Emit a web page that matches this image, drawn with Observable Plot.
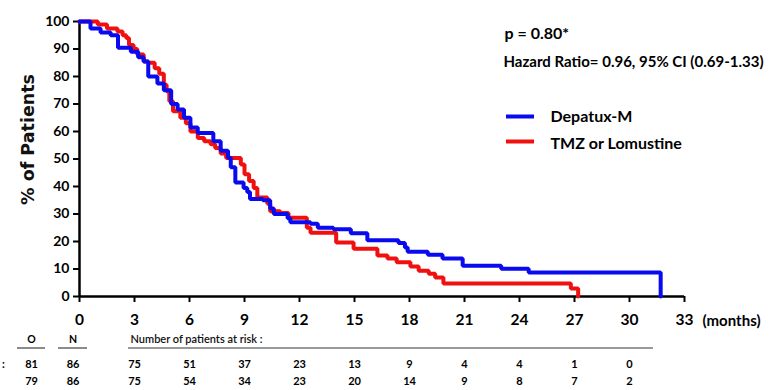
<!DOCTYPE html>
<html>
<head>
<meta charset="utf-8">
<script src="https://cdn.jsdelivr.net/npm/d3@7"></script>
<script src="https://cdn.jsdelivr.net/npm/@observablehq/plot@0.6"></script>
<style>
  html, body { margin: 0; padding: 0; background: #fff; }
  #chart svg { display: block; }
</style>
</head>
<body>
<div id="chart"></div>
<script>
// ---- Data ----
const seriesNames = ["Depatux-M", "TMZ or Lomustine"];

const depatuxMonths = [0, 0.6, 1.15, 1.7, 2.1, 2.8, 3.2, 3.5, 3.75, 4.25, 4.6, 5.0, 5.35, 5.7, 6.05, 6.45, 7.3, 7.7, 8.1, 8.25, 8.5, 8.95, 9.15, 9.3, 10.0, 10.4, 10.6, 11.35, 11.5, 12.6, 13.0, 13.85, 14.8, 15.7, 17.4, 17.75, 17.9, 19.0, 19.8, 20.9, 23.0, 24.5, 31.7];
const depatuxSurv   = [100, 97.5, 96, 95, 90.5, 89, 87, 85.5, 80, 77.5, 75, 70, 68, 65, 61.5, 59.5, 56.5, 53, 50.5, 47, 41.5, 39.5, 38, 35.5, 35, 32, 30, 28.5, 27, 26.5, 25, 24.5, 23, 20.5, 19.5, 17.8, 16.3, 15.2, 13.8, 11.2, 10.1, 8.7, 0];

const tmzMonths = [0, 1.0, 1.5, 2.07, 2.35, 2.55, 2.7, 2.95, 3.15, 3.5, 3.75, 4.1, 4.35, 4.6, 4.75, 4.9, 5.1, 5.5, 5.8, 6.05, 6.45, 6.8, 7.15, 7.4, 7.7, 8.0, 8.8, 9.0, 9.25, 9.5, 9.7, 10.25, 10.4, 10.95, 11.4, 12.4, 12.6, 14.0, 14.95, 16.25, 16.8, 17.3, 18.05, 18.5, 19.05, 19.4, 19.85, 26.8, 27.2];
const tmzSurv   = [100, 98.9, 97.5, 96.4, 95, 94, 91.5, 90, 88, 85.5, 85, 83, 81, 77, 74.6, 71, 67.4, 65, 63, 60, 57.6, 56.5, 55.4, 54, 52, 50.4, 48, 44.5, 42, 39.5, 36, 33.7, 31, 30.4, 28.6, 25, 23.2, 19.6, 17.4, 14.9, 13.8, 12.5, 10.9, 9.4, 8.3, 6.9, 4.7, 2.9, 0];

const xTicks = [0, 3, 6, 9, 12, 15, 18, 21, 24, 27, 30, 33];
const yTicks = [0, 10, 20, 30, 40, 50, 60, 70, 80, 90, 100];

const riskMonths = [3, 6, 9, 12, 15, 18, 21, 24, 27, 30];
const riskRow1 = [75, 51, 37, 23, 13, 9, 4, 4, 1, 0];
const riskRow2 = [75, 54, 34, 23, 20, 14, 9, 8, 7, 2];
const observed = [81, 79];
const numbers  = [86, 86];

const pText = "p = 0.80*";
const hrText = "Hazard Ratio= 0.96, 95% CI (0.69-1.33)";
const yLabel = "% of Patients";
const xUnit = "(months)";
const riskTitle = "Number of patients at risk :";

// ---- Tables built from the arrays ----
const depatux = depatuxMonths.map((m, i) => ({month: m, surv: depatuxSurv[i]}));
const tmz = tmzMonths.map((m, i) => ({month: m, surv: tmzSurv[i]}));
const risk1 = riskMonths.map((m, i) => ({month: m, n: riskRow1[i]}));
const risk2 = riskMonths.map((m, i) => ({month: m, n: riskRow2[i]}));

const BLUE = "#0a0aef";
const RED = "#f01010";
const FONT = "Lato, 'Noto Sans', sans-serif";

// helpers converting layout pixels to data units (plot: x 0..33 -> 79..684, y 0..100 -> 296..21)
const mx = px => (px - 79) / (605 / 33);
const sy = py => (296 - py) / 2.75;

const txt = (extra) => Object.assign({lineAnchor: "bottom", fontWeight: "bold", fontFamily: FONT, fill: "#000"}, extra);

const chart = Plot.plot({
  width: 779,
  height: 390,
  marginTop: 21,
  marginBottom: 94,
  marginLeft: 79,
  marginRight: 95,
  x: {domain: [0, 33]},
  y: {domain: [0, 100]},
  style: {background: "#fff", color: "#000"},
  marks: [
    Plot.axisY({ticks: yTicks, tickSize: 6, tickPadding: 4, label: null, fontSize: 14, fontWeight: "bold", fontFamily: FONT, strokeWidth: 2, fill: "#000"}),
    Plot.axisX({ticks: xTicks, tickSize: 6, tickPadding: 11, label: null, fontSize: 15.5, fontWeight: "bold", fontFamily: FONT, strokeWidth: 2, fill: "#000"}),
    Plot.ruleX([0], {y1: 0, y2: 100, stroke: "#000", strokeWidth: 2.5}),
    Plot.ruleY([0], {x1: 0, x2: 33, stroke: "#000", strokeWidth: 2.5}),
    Plot.line(tmz, {x: "month", y: "surv", curve: "step-after", stroke: RED, strokeWidth: 4, strokeLinejoin: "miter"}),
    Plot.line(depatux, {x: "month", y: "surv", curve: "step-after", stroke: BLUE, strokeWidth: 4, strokeLinejoin: "miter"}),
    // y-axis title
    Plot.text([yLabel], {x: mx(28), y: sy(139), text: d => d, rotate: -90, fontSize: 17.5, fontWeight: "bold", fontFamily: "'DejaVu Sans', sans-serif", fill: "#111"}),
    // x unit
    Plot.text([xUnit], txt({x: mx(702), y: sy(325), text: d => d, textAnchor: "start", fontSize: 15})),
    // annotations
    Plot.text([pText], txt({x: mx(504), y: sy(38), text: d => d, textAnchor: "start", fontSize: 16})),
    Plot.text([hrText], txt({x: mx(503), y: sy(66), text: d => d, textAnchor: "start", fontSize: 15})),
    // legend
    Plot.ruleY([sy(116)], {x1: mx(506), x2: mx(534), stroke: BLUE, strokeWidth: 4}),
    Plot.ruleY([sy(141)], {x1: mx(506), x2: mx(534), stroke: RED, strokeWidth: 4}),
    Plot.text([seriesNames[0]], txt({x: mx(550), y: sy(121), text: d => d, textAnchor: "start", fontSize: 16})),
    Plot.text([seriesNames[1]], txt({x: mx(550), y: sy(148), text: d => d, textAnchor: "start", fontSize: 16})),
    // risk table header
    Plot.text(["O"], txt({x: mx(31), y: sy(342), text: d => d, fontSize: 10.5})),
    Plot.text(["N"], txt({x: mx(72.5), y: sy(342), text: d => d, fontSize: 10.5})),
    Plot.text([riskTitle], txt({x: mx(130), y: sy(342), text: d => d, textAnchor: "start", fontSize: 11, fontWeight: "600", fill: "#111"})),
    Plot.ruleY([sy(347.5)], {x1: mx(17), x2: mx(45), stroke: "#666", strokeWidth: 1.5}),
    Plot.ruleY([sy(347.5)], {x1: mx(58), x2: mx(87), stroke: "#666", strokeWidth: 1.5}),
    Plot.ruleY([sy(347.5)], {x1: mx(128), x2: mx(653), stroke: "#777", strokeWidth: 1.5}),
    // risk rows
    Plot.text([":"], txt({x: mx(3), y: sy(367), text: d => d, fontSize: 11})),
    Plot.text([observed[0]], txt({x: mx(31), y: sy(367), text: d => d, fontSize: 11})),
    Plot.text([numbers[0]], txt({x: mx(72.5), y: sy(367), text: d => d, fontSize: 11})),
    Plot.text([observed[1]], txt({x: mx(31), y: sy(384), text: d => d, fontSize: 11})),
    Plot.text([numbers[1]], txt({x: mx(72.5), y: sy(384), text: d => d, fontSize: 11})),
    Plot.text(risk1, txt({x: "month", y: sy(367), text: "n", fontSize: 11})),
    Plot.text(risk2, txt({x: "month", y: sy(384), text: "n", fontSize: 11}))
  ]
});
document.getElementById("chart").appendChild(chart);
</script>
</body>
</html>
